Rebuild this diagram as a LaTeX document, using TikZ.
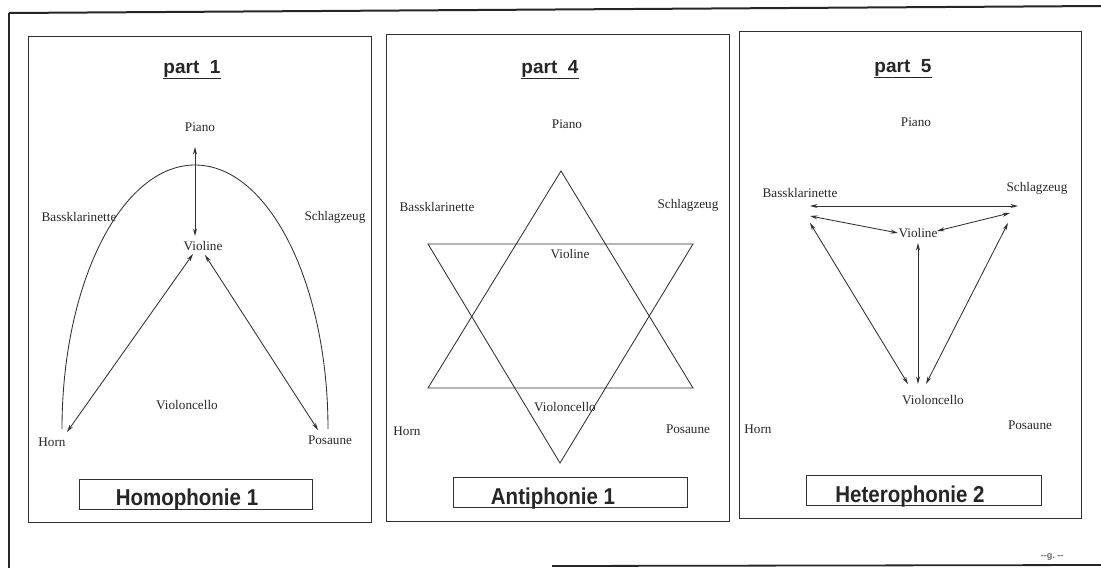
\documentclass[tikz,border=0pt]{standalone}
\usepackage{fontspec}
\usepackage{graphicx}
\setmainfont{Liberation Serif}
\newfontfamily\hsansbold{Liberation Sans Bold}
\usetikzlibrary{arrows.meta}
\definecolor{ink}{HTML}{262626}
\definecolor{lineink}{HTML}{303030}
\tikzset{
  lbl/.style={inner sep=0pt, text=ink, font=\fontsize{13.2}{13.2}\selectfont},
  ttl/.style={inner sep=0pt, anchor=base, text=ink, font=\hsansbold\fontsize{19}{19}\selectfont},
  boxtxt/.style={inner sep=0pt, anchor=base, text=ink, font=\hsansbold\fontsize{20.5}{20.5}\selectfont},
  panel/.style={draw=lineink, line width=1pt},
  namebox/.style={draw=lineink, line width=1pt, inner sep=0pt},
  figline/.style={draw=lineink, line width=0.85pt},
  conn/.style={draw=lineink, line width=0.85pt, {Stealth[length=7.5pt,width=4pt]}-{Stealth[length=7.5pt,width=4pt]}},
  frame/.style={draw=black!85, line width=1.2pt}
}
\begin{document}
\begin{tikzpicture}[x=1pt,y=-1pt]
\useasboundingbox (0,0) rectangle (1101,568);
% outer frame (scan edges)
\draw[frame, line width=2pt] (9,13) -- (1101,6);
\draw[frame] (9,13) -- (9,568);
\draw[frame, line width=1.8pt] (552,566) -- (1101,565);

% ---------------- panel 1 ----------------
\draw[panel] (28,36) rectangle (371,522);
\node[ttl] (t1) at (192,73) {\underline{part\ \ 1}};
\node[lbl] (p1piano) at (200,127) {Piano};
\node[lbl] (p1bass) at (79,217) {Bassklarinette};
\node[lbl] (p1schl) at (335,217) {Schlagzeug};
\node[lbl] (p1viol) at (203,246) {Violine};
\node[lbl] (p1cello) at (187,405) {Violoncello};
\node[lbl] (p1horn) at (52,442) {Horn};
\node[lbl] (p1pos) at (330,440) {Posaune};
\draw[figline] (62,429) arc[start angle=180, end angle=360, x radius=133, y radius=264];
\coordinate (p1a) at (195,147);
\coordinate (p1b) at (195,236);
\coordinate (p1c) at (193,254);
\coordinate (p1d) at (67,432);
\coordinate (p1e) at (205,255);
\coordinate (p1f) at (318,430);
\draw[conn] (p1a) -- (p1b);
\draw[conn] (p1c) -- (p1d);
\draw[conn] (p1e) -- (p1f);
\node[namebox, minimum width=233pt, minimum height=30pt] (b1) at (195.5,494) {};
\node[boxtxt] (b1t) at (187,505) {\scalebox{1}[1.12]{Homophonie 1}};

% ---------------- panel 2 ----------------
\draw[panel] (386,34) rectangle (729,521);
\node[ttl] (t2) at (550,73) {\underline{part\ \ 4}};
\node[lbl] (p2piano) at (567,124) {Piano};
\node[lbl] (p2bass) at (437,207) {Bassklarinette};
\node[lbl] (p2schl) at (688,205) {Schlagzeug};
\node[lbl] (p2viol) at (570,254) {Violine};
\node[lbl] (p2cello) at (565,407) {Violoncello};
\node[lbl] (p2horn) at (407,431) {Horn};
\node[lbl] (p2pos) at (688,429) {Posaune};
\draw[figline] (561,171) -- (693,388) -- (428,388) -- cycle;
\draw[figline] (428,244) -- (693,244) -- (560,463) -- cycle;
\node[namebox, minimum width=234pt, minimum height=30pt] (b2) at (570,492) {};
\node[boxtxt] (b2t) at (553,504) {\scalebox{1}[1.12]{Antiphonie 1}};

% ---------------- panel 3 ----------------
\draw[panel] (739,31) rectangle (1081,518);
\node[ttl] (t3) at (903,72) {\underline{part\ \ 5}};
\node[lbl] (p3piano) at (916,122) {Piano};
\node[lbl] (p3bass) at (800,193) {Bassklarinette};
\node[lbl] (p3schl) at (1037,188) {Schlagzeug};
\node[lbl] (p3viol) at (918,233) {Violine};
\node[lbl] (p3cello) at (933,400) {Violoncello};
\node[lbl] (p3horn) at (758,429) {Horn};
\node[lbl] (p3pos) at (1030,425) {Posaune};
\coordinate (p3h1) at (810,206);
\coordinate (p3h2) at (1018,206);
\coordinate (p3bv1) at (810,216);
\coordinate (p3bv2) at (898,233);
\coordinate (p3sv1) at (1010,213);
\coordinate (p3sv2) at (937,231);
\coordinate (p3bc1) at (810,223);
\coordinate (p3bc2) at (908,384);
\coordinate (p3vc1) at (918,243);
\coordinate (p3vc2) at (918,384);
\coordinate (p3sc1) at (1008,223);
\coordinate (p3sc2) at (926,384);
\draw[conn] (p3h1) -- (p3h2);
\draw[conn] (p3bv1) -- (p3bv2);
\draw[conn] (p3sv1) -- (p3sv2);
\draw[conn] (p3bc1) -- (p3bc2);
\draw[conn] (p3vc1) -- (p3vc2);
\draw[conn] (p3sc1) -- (p3sc2);
\node[namebox, minimum width=235pt, minimum height=30pt] (b3) at (923.5,490) {};
\node[boxtxt] (b3t) at (910,502) {\scalebox{1}[1.12]{Heterophonie 2}};

% page mark
\node[inner sep=0pt, text=black!60, font=\hsansbold\fontsize{9}{9}\selectfont] (pg) at (1052,557) {--g.\ --};
\end{tikzpicture}
\end{document}
